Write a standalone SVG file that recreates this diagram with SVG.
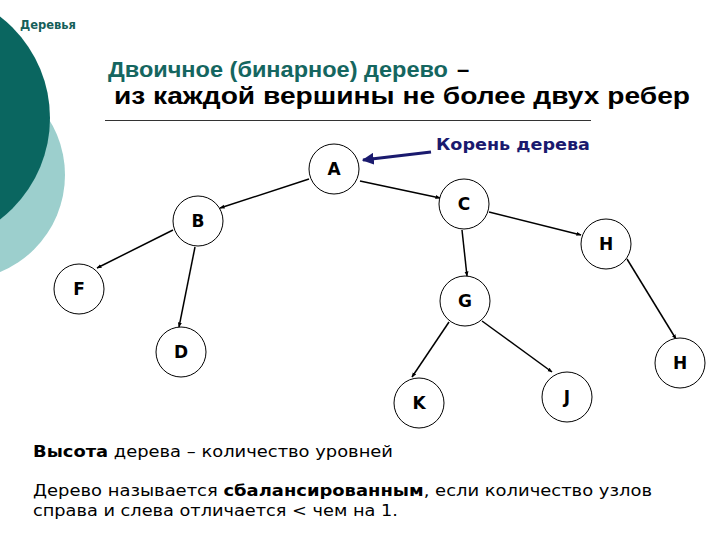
<svg xmlns="http://www.w3.org/2000/svg" width="720" height="540" viewBox="0 0 720 540">
<defs>
<marker id="ah" viewBox="0 0 10 10" refX="9" refY="5" markerWidth="5" markerHeight="5" orient="auto" markerUnits="userSpaceOnUse">
<path d="M0,1 L10,5 L0,9 z" fill="#000"/>
</marker>
<marker id="ah2" viewBox="0 0 10 10" refX="9" refY="5" markerWidth="4" markerHeight="4" orient="auto">
<path d="M0,0 L10,5 L0,10 z" fill="#1a1a6e"/>
</marker>
<style>
.node circle{fill:#fff;stroke:#000;stroke-width:1}
.node text{font-family:"DejaVu Sans",Verdana,sans-serif;font-weight:bold;font-size:17px;text-anchor:middle;fill:#000}
.edge{stroke:#000;stroke-width:1.5;fill:none;marker-end:url(#ah)}
.t{font-family:"DejaVu Sans",Verdana,sans-serif}
.h{font-family:"Liberation Sans",Arial,sans-serif;font-weight:bold}
</style>
</defs>
<rect width="720" height="540" fill="#fff"/>
<g id="decor">
<circle cx="-40" cy="175" r="105" fill="#9ccfcd"/>
<circle cx="-78" cy="118" r="128" fill="#0a6660"/>
</g>
<text class="t" x="20" y="29" font-size="11.5" font-weight="bold" fill="#155f5a">Деревья</text>
<text class="h" x="108" y="77" font-size="22" fill="#156660" textLength="340" lengthAdjust="spacingAndGlyphs">Двоичное (бинарное) дерево</text>
<text class="h" x="457" y="77" font-size="22" fill="#000">–</text>
<text class="h" x="114" y="104" font-size="23" fill="#000" textLength="576" lengthAdjust="spacingAndGlyphs">из каждой вершины не более двух ребер</text>
<line x1="105" y1="120.5" x2="591" y2="120.5" stroke="#333" stroke-width="1"/>
<g id="root-label">
<text class="t" x="436" y="150" font-size="15" font-weight="bold" fill="#1a1a6e" textLength="154" lengthAdjust="spacingAndGlyphs">Корень дерева</text>
<line x1="431" y1="152" x2="363" y2="160" stroke="#1a1a6e" stroke-width="3" marker-end="url(#ah2)"/>
</g>
<g id="connectors">
<line class="edge" x1="309" y1="179" x2="220" y2="208"/>
<line class="edge" x1="360" y1="181" x2="440" y2="198"/>
<line class="edge" x1="489" y1="212" x2="581" y2="235"/>
<line class="edge" x1="462" y1="230" x2="467" y2="276"/>
<line class="edge" x1="627" y1="259" x2="676" y2="339"/>
<line class="edge" x1="173" y1="230" x2="97" y2="268"/>
<line class="edge" x1="195" y1="247" x2="179" y2="327"/>
<line class="edge" x1="449" y1="322" x2="412" y2="377"/>
<line class="edge" x1="482" y1="321" x2="552" y2="372"/>
</g>
<g id="A" class="node"><circle cx="334" cy="169" r="25"/><text x="334" y="175">A</text></g>
<g id="B" class="node"><circle cx="198" cy="221" r="25"/><text x="198" y="227">B</text></g>
<g id="C" class="node"><circle cx="464" cy="204" r="25"/><text x="464" y="210">C</text></g>
<g id="H1" class="node"><circle cx="606" cy="244" r="25"/><text x="606" y="250">H</text></g>
<g id="F" class="node"><circle cx="79" cy="289" r="25"/><text x="79" y="295">F</text></g>
<g id="D" class="node"><circle cx="181" cy="352" r="25"/><text x="181" y="358">D</text></g>
<g id="G" class="node"><circle cx="465" cy="301" r="25"/><text x="465" y="307">G</text></g>
<g id="H2" class="node"><circle cx="680" cy="363" r="25"/><text x="680" y="369">H</text></g>
<g id="K" class="node"><circle cx="419" cy="403" r="25"/><text x="419" y="409">K</text></g>
<g id="J" class="node"><circle cx="567" cy="397" r="25"/><text x="567" y="403">J</text></g>
<g id="notes" class="t" font-size="15" fill="#000">
<text x="33" y="457" textLength="360" lengthAdjust="spacingAndGlyphs"><tspan font-weight="bold">Высота</tspan> дерева – количество уровней</text>
<text x="33" y="496" textLength="619" lengthAdjust="spacingAndGlyphs">Дерево называется <tspan font-weight="bold">сбалансированным</tspan>, если количество узлов</text>
<text x="33" y="516" textLength="365" lengthAdjust="spacingAndGlyphs">справа и слева отличается &lt; чем на 1.</text>
</g>
</svg>
